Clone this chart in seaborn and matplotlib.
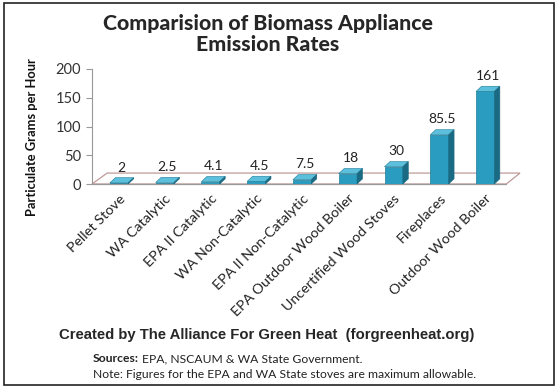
import matplotlib
matplotlib.use("Agg")
import matplotlib.pyplot as plt
import seaborn as sns
from matplotlib.patches import Polygon, Rectangle

# Data
appliances = ["Pellet Stove", "WA Catalytic", "EPA II Catalytic", "WA Non-Catalytic",
              "EPA II Non-Catalytic", "EPA Outdoor Wood Boiler", "Uncertified Wood Stoves",
              "Fireplaces", "Outdoor Wood Boiler"]
emissions = [2, 2.5, 4.1, 4.5, 7.5, 18, 30, 85.5, 161]
value_labels = ["2", "2.5", "4.1", "4.5", "7.5", "18", "30", "85.5", "161"]
y_ticks = [0, 50, 100, 150, 200]

sns.set_theme(style="white")
plt.rcParams['font.family'] = ['Lato', 'DejaVu Sans']

fig = plt.figure(figsize=(5.6, 3.92), dpi=100)
fig.patch.set_facecolor("white")
ax = fig.add_axes([92 / 560, 1 - 184 / 392, (520 - 92) / 560, (184 - 69) / 392])

front = "#2a9cbf"
side = "#1b6a83"
top = "#5cc0dc"
sns.barplot(x=appliances, y=emissions, color=front, width=0.4, saturation=1,
            edgecolor="#1f7c98", linewidth=0.5, ax=ax, zorder=3)

ax.set_xlim(-0.59, 8.76)
ax.set_ylim(0, 200)
dx, dy = 0.12, 9  # faux 3D depth in data units

# floor
x_left, x_right = ax.get_xlim()
floor = Polygon([(x_left, 0), (x_right - 0.3, 0), (x_right, 19), (x_left + 0.33, 19)],
                closed=True, facecolor="white", edgecolor="#c09a9a", linewidth=0.9,
                zorder=1, clip_on=False)
ax.add_patch(floor)
ax.plot([x_left, x_right - 0.3], [0, 0], color="#999999", linewidth=0.9, zorder=2,
        clip_on=False)

for bar, lab in zip(ax.patches[:len(emissions)], value_labels):
    l = bar.get_x()
    r = l + bar.get_width()
    h = bar.get_height()
    ax.add_patch(Polygon([(l, h), (r, h), (r + dx, h + dy), (l + dx, h + dy)],
                         closed=True, facecolor=top, edgecolor="#1f7c98", linewidth=0.4,
                         zorder=3, clip_on=False))
    ax.add_patch(Polygon([(r, 0), (r + dx, dy), (r + dx, h + dy), (r, h)],
                         closed=True, facecolor=side, edgecolor=side, linewidth=0.4,
                         zorder=3, clip_on=False))
    ax.annotate(lab, (l + bar.get_width() / 2 + dx / 2, h + dy), xytext=(0, 3),
                textcoords="offset points", ha="center", va="bottom", fontsize=10,
                color="#222222", clip_on=False)

ax.set_yticks(y_ticks)
ax.set_yticklabels([str(t) for t in y_ticks], fontsize=10.5, color="#333333")
ax.tick_params(axis="y", length=4, width=0.8, color="#999999", pad=4, left=True)
ax.tick_params(axis="x", length=0, pad=6)
ax.set_xticks(range(len(appliances)))
ax.set_xticklabels(appliances, rotation=45, ha="right", rotation_mode="anchor",
                   fontsize=10.3, color="#222222")
for s in ["top", "right", "bottom"]:
    ax.spines[s].set_visible(False)
ax.spines["left"].set_color("#999999")
ax.spines["left"].set_linewidth(0.8)
ax.set_facecolor("none")
ax.set_ylabel("Particulate Grams per Hour", fontsize=9.3, fontweight="bold", color="#111111")
ax.yaxis.set_label_coords(-0.127, 0.41)

fig.text(268 / 560, 1 - 34 / 392, "Comparision of Biomass Appliance\nEmission Rates",
         ha="center", va="center", fontsize=15.3, fontweight="black", linespacing=1.1)
fig.text(267 / 560, 1 - 335 / 392, "Created by The Alliance For Green Heat  (forgreenheat.org)",
         ha="center", va="center", fontsize=10.7, fontweight="bold", family="Liberation Sans")

# "Sources:" in bold, then the rest in regular weight
src = fig.text(93 / 560, 1 - 359 / 392, "Sources:", ha="left", va="center",
               fontsize=8.7, fontweight="bold", color="#222222")
renderer = fig.canvas.get_renderer()
bb = src.get_window_extent(renderer=renderer)
fig.text((bb.x1 + 3) / fig.bbox.width, 1 - 359 / 392, "EPA, NSCAUM & WA State Government.",
         ha="left", va="center", fontsize=8.7, color="#222222")
fig.text(93 / 560, 1 - 375 / 392, "Note: Figures for the EPA and WA State stoves are maximum allowable.",
         ha="left", va="center", fontsize=8.7, color="#222222")

fig.patches.append(Rectangle((4 / 560, 1 - 385 / 392), 550 / 560, 382 / 392,
                             transform=fig.transFigure, fill=False, edgecolor="#222222",
                             linewidth=1.2))

fig.savefig("out.png", dpi=100)
